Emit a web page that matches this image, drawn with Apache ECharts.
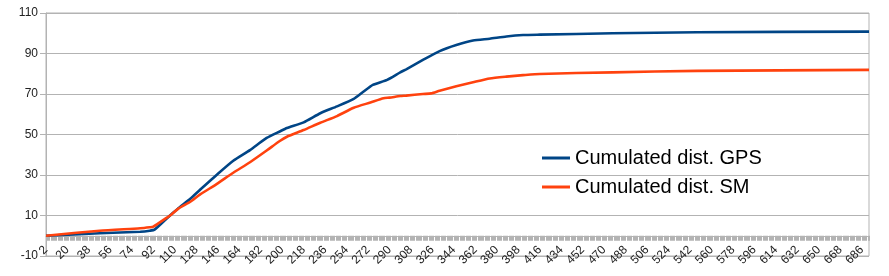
<!DOCTYPE html>
<html>
<head>
<meta charset="utf-8">
<script src="https://cdn.jsdelivr.net/npm/echarts@6/dist/echarts.min.js"></script>
<style>
html,body{margin:0;padding:0;background:#fff;}
#chart{width:889px;height:276px;}
</style>
</head>
<body>
<div id="chart"></div>
<script>
// Category range of the x axis (row numbers)
const FIRST_CAT = 2;
const LAST_CAT = 692;

// Y axis ticks
const yTicks = [-10, 10, 30, 50, 70, 90, 110];

// Cumulated dist. GPS : sampled points (category, value)
const gpsX = [2, 47, 81, 89, 93, 103, 106, 113, 123, 131, 145, 159, 173, 187, 198, 204, 218, 232, 246, 260, 268, 276, 288, 299, 304, 318, 332, 346, 360, 374, 388, 402, 416, 477, 548, 692];
const gpsY = [0, 1.2, 2.0, 2.5, 3.0, 8.4, 10.0, 13.6, 18.3, 22.6, 30.0, 37.0, 42.3, 48.3, 51.5, 53.2, 56.0, 60.5, 63.9, 67.6, 71.1, 74.5, 77.0, 80.7, 82.2, 86.8, 91.2, 94.2, 96.4, 97.3, 98.4, 99.1, 99.3, 100.0, 100.5, 100.8];

// Cumulated dist. SM : sampled points (category, value)
const smX = [2, 47, 81, 89, 92, 103, 106, 113, 123, 131, 145, 159, 173, 187, 198, 204, 218, 232, 246, 260, 274, 285, 290, 299, 304, 318, 325, 332, 346, 360, 374, 388, 402, 416, 477, 548, 692];
const smY = [0, 2.5, 3.7, 4.2, 4.5, 8.8, 10.0, 13.4, 16.8, 20.3, 25.5, 31.1, 36.3, 42.1, 46.8, 48.9, 52.2, 55.8, 59.1, 63.2, 65.8, 67.9, 68.2, 69.0, 69.2, 70.0, 70.3, 71.6, 73.8, 75.8, 77.7, 78.6, 79.3, 79.9, 80.7, 81.4, 81.9];

const categories = [];
for (let c = FIRST_CAT; c <= LAST_CAT; c++) categories.push(String(c));

function pairs(xs, ys) {
  return xs.map((x, i) => [categories.indexOf(String(x)), ys[i]]);
}

const FONT = 'Liberation Sans';
const GRID_COLOR = '#b3b3b3';

const chart = echarts.init(document.getElementById('chart'), null, {renderer: 'canvas'});
chart.setOption({
  animation: false,
  textStyle: {fontFamily: FONT},
  grid: {
    left: 46, right: 20, top: 13, bottom: 20,
    containLabel: false,
    outerBoundsMode: 'none',
    show: true, borderColor: GRID_COLOR, borderWidth: 1
  },
  legend: {
    orient: 'vertical',
    left: 537, top: 143,
    itemWidth: 28, itemHeight: 3, itemGap: 9,
    icon: 'rect',
    textStyle: {fontFamily: FONT, fontSize: 20, lineHeight: 19, color: '#000'},
    data: ['Cumulated dist. GPS', 'Cumulated dist. SM']
  },
  xAxis: [
    {
      type: 'category', data: categories, boundaryGap: false,
      axisLine: {show: true, onZero: true, lineStyle: {color: GRID_COLOR}},
      axisTick: {show: true, interval: 0, length: 5, lineStyle: {color: GRID_COLOR}},
      axisLabel: {show: false},
      splitLine: {show: false}
    },
    {
      type: 'category', data: categories, boundaryGap: false, position: 'bottom',
      offset: -10,
      axisLine: {show: false, onZero: false},
      axisTick: {show: false},
      axisLabel: {show: true, interval: 17, rotate: 45, margin: 2, fontSize: 12, color: '#222', fontFamily: FONT},
      splitLine: {show: false}
    }
  ],
  yAxis: {
    type: 'value', min: yTicks[0], max: yTicks[yTicks.length - 1], interval: yTicks[1] - yTicks[0],
    axisLine: {show: true, lineStyle: {color: GRID_COLOR}},
    axisTick: {show: true, length: 6, lineStyle: {color: GRID_COLOR}},
    axisLabel: {fontSize: 12, color: '#222', margin: 8, fontFamily: FONT},
    splitLine: {show: true, lineStyle: {color: GRID_COLOR, width: 1}}
  },
  series: [
    {
      name: 'Cumulated dist. GPS', type: 'line', xAxisIndex: 0,
      data: pairs(gpsX, gpsY), showSymbol: false, symbol: 'none',
      smooth: 0.2,
      itemStyle: {color: '#004586'},
      lineStyle: {color: '#004586', width: 2.6}
    },
    {
      name: 'Cumulated dist. SM', type: 'line', xAxisIndex: 0,
      data: pairs(smX, smY), showSymbol: false, symbol: 'none',
      smooth: 0.2,
      itemStyle: {color: '#ff420e'},
      lineStyle: {color: '#ff420e', width: 2.6}
    }
  ]
});
</script>
</body>
</html>
